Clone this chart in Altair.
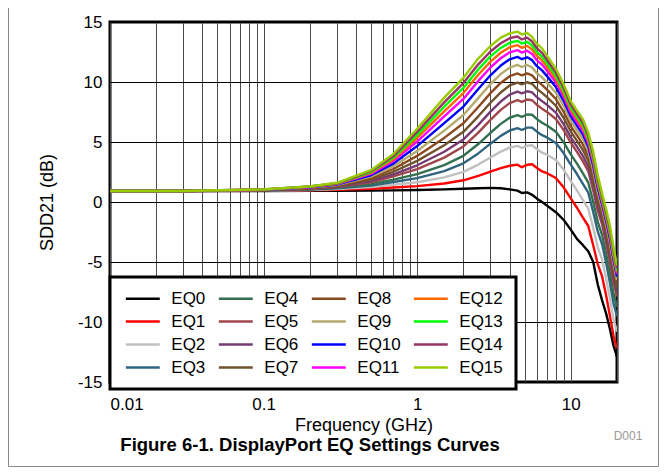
import altair as alt
import pandas as pd

FREQ = [0.01, 0.03, 0.1, 0.2, 0.3, 0.5, 0.7, 1, 1.5, 2, 2.5, 3, 3.5, 4, 4.5, 4.8, 5.2, 5.6,
        6, 6.5, 7, 8, 9, 10, 11, 12, 13, 14, 15, 16, 17, 18, 19, 20]

EQ0 = [0.92, 0.92, 0.92, 0.93, 0.93, 0.95, 0.97, 1.0, 1.05, 1.1, 1.15, 1.18, 1.15, 1.05, 0.95, 0.75, 0.8, 0.6,
       0.3, 0.0, -0.3, -0.85, -1.5, -2.3, -3.1, -3.6, -4.1, -5.0, -6.9, -8.2, -9.3, -10.6, -12.0, -12.9]
EQ1 = [0.92, 0.92, 0.93, 0.97, 1.01, 1.10, 1.21, 1.32, 1.54, 1.81, 2.17, 2.53, 2.82, 3.02, 3.11, 2.9, 3.1, 3.15,
       2.85, 2.55, 2.4, 2.0, 1.2, 0.3, -0.5, -1.3, -2.0, -3.6, -5.2, -6.2, -7.8, -9.5, -11.2, -12.2]
EQ2 = [0.92, 0.92, 0.94, 1.0, 1.08, 1.24, 1.44, 1.65, 2.05, 2.51, 3.12, 3.71, 4.20, 4.53, 4.68, 4.50, 4.70, 4.73,
       4.42, 4.11, 3.94, 3.50, 2.68, 1.75, 0.95, 0.16, -0.56, -2.16, -3.78, -4.81, -6.39, -8.08, -9.78, -10.81]
EQ3 = [0.92, 0.92, 0.95, 1.03, 1.14, 1.37, 1.67, 1.99, 2.58, 3.22, 4.05, 4.86, 5.51, 5.96, 6.15, 6.0, 6.2, 6.2,
       5.88, 5.57, 5.38, 4.91, 4.06, 3.11, 2.31, 1.52, 0.78, -0.83, -2.47, -3.52, -5.09, -6.76, -8.47, -9.52]
EQ4 = [0.92, 0.92, 0.96, 1.06, 1.19, 1.49, 1.87, 2.32, 3.07, 3.85, 4.83, 5.77, 6.51, 7.02, 7.24, 7.10, 7.29, 7.27,
       6.92, 6.61, 6.38, 5.85, 4.96, 3.97, 3.17, 2.39, 1.62, 0.02, -1.66, -2.75, -4.29, -5.94, -7.66, -8.75]
EQ5 = [0.92, 0.92, 0.97, 1.09, 1.25, 1.64, 2.13, 2.74, 3.70, 4.63, 5.78, 6.84, 7.68, 8.24, 8.49, 8.35, 8.54, 8.48,
       8.11, 7.78, 7.51, 6.92, 5.99, 4.95, 4.15, 3.38, 2.57, 0.97, -0.74, -1.87, -3.39, -5.01, -6.74, -7.87]
EQ6 = [0.92, 0.92, 0.98, 1.12, 1.29, 1.74, 2.31, 3.06, 4.19, 5.21, 6.43, 7.53, 8.37, 8.95, 9.19, 9.05, 9.23, 9.14,
       8.75, 8.41, 8.10, 7.45, 6.47, 5.39, 4.59, 3.82, 2.98, 1.38, -0.36, -1.54, -3.04, -4.63, -6.36, -7.54]
EQ7 = [0.92, 0.92, 0.99, 1.14, 1.33, 1.86, 2.52, 3.43, 4.73, 5.85, 7.14, 8.27, 9.13, 9.71, 9.95, 9.80, 9.98, 9.85,
       9.44, 9.09, 8.74, 8.02, 7.0, 5.87, 5.07, 4.32, 3.44, 1.84, 0.06, -1.17, -2.63, -4.20, -5.94, -7.17]
EQ8 = [0.92, 0.92, 1.0, 1.17, 1.37, 1.98, 2.75, 3.84, 5.34, 6.56, 7.92, 9.07, 9.92, 10.48, 10.71, 10.55, 10.72, 10.55,
       10.12, 9.76, 9.36, 8.58, 7.50, 6.33, 5.53, 4.78, 3.86, 2.26, 0.44, -0.83, -2.27, -3.80, -5.56, -6.83]
EQ9 = [0.92, 0.92, 1.01, 1.2, 1.41, 2.11, 2.97, 4.25, 5.95, 7.25, 8.67, 9.82, 10.66, 11.20, 11.42, 11.25, 11.42, 11.21,
       10.75, 10.39, 9.95, 9.10, 7.98, 6.76, 5.96, 5.23, 4.27, 2.67, 0.81, -0.51, -1.91, -3.42, -5.19, -6.51]
EQ10 = [0.92, 0.92, 1.02, 1.23, 1.45, 2.23, 3.20, 4.66, 6.57, 7.95, 9.42, 10.56, 11.37, 11.89, 12.09, 11.90, 12.06, 11.82,
        11.34, 10.97, 10.49, 9.58, 8.41, 7.15, 6.35, 5.62, 4.63, 3.03, 1.14, -0.23, -1.61, -3.09, -4.86, -6.23]
EQ11 = [0.92, 0.92, 1.03, 1.25, 1.49, 2.34, 3.41, 5.04, 7.13, 8.59, 10.09, 11.21, 11.98, 12.47, 12.66, 12.45, 12.61, 12.34,
        11.83, 11.45, 10.94, 9.97, 8.77, 7.46, 6.66, 5.94, 4.92, 3.32, 1.39, -0.01, -1.37, -2.83, -4.61, -6.01]
EQ12 = [0.92, 0.92, 1.03, 1.27, 1.51, 2.42, 3.56, 5.34, 7.56, 9.08, 10.60, 11.70, 12.44, 12.90, 13.07, 12.85, 13.01, 12.71,
        12.19, 11.80, 11.26, 10.25, 9.02, 7.68, 6.88, 6.17, 5.12, 3.52, 1.57, 0.14, -1.20, -2.64, -4.43, -5.86]
EQ13 = [0.92, 0.92, 1.04, 1.29, 1.54, 2.50, 3.70, 5.60, 7.94, 9.51, 11.05, 12.13, 12.84, 13.27, 13.43, 13.20, 13.35, 13.04,
        12.51, 12.11, 11.55, 10.51, 9.25, 7.89, 7.09, 6.38, 5.31, 3.71, 1.74, 0.28, -1.04, -2.47, -4.26, -5.72]
EQ14 = [0.92, 0.92, 1.05, 1.30, 1.56, 2.57, 3.83, 5.84, 8.30, 9.91, 11.47, 12.54, 13.23, 13.65, 13.79, 13.55, 13.70, 13.37,
        12.83, 12.43, 11.85, 10.78, 9.50, 8.12, 7.32, 6.61, 5.53, 3.93, 1.95, 0.47, -0.85, -2.26, -4.05, -5.53]
EQ15 = [0.92, 0.92, 1.05, 1.3, 1.6, 2.65, 4.0, 6.1, 8.7, 10.35, 11.95, 13.0, 13.7, 14.05, 14.2, 13.95, 14.1, 13.75,
        13.2, 12.8, 12.2, 11.1, 9.8, 8.4, 7.6, 6.9, 5.8, 4.2, 2.2, 0.7, -0.6, -2.0, -3.8, -5.3]

SERIES = ["EQ0", "EQ1", "EQ2", "EQ3", "EQ4", "EQ5", "EQ6", "EQ7",
          "EQ8", "EQ9", "EQ10", "EQ11", "EQ12", "EQ13", "EQ14", "EQ15"]
VALUES = [EQ0, EQ1, EQ2, EQ3, EQ4, EQ5, EQ6, EQ7, EQ8, EQ9, EQ10, EQ11, EQ12, EQ13, EQ14, EQ15]
COLORS = ["#000000", "#FF0000", "#C0C0C0", "#31657F", "#33704F", "#A0464B", "#773B73", "#70522C",
          "#8B4A1E", "#B4AA6E", "#0000FF", "#FF00FF", "#FF6600", "#00FF00", "#993366", "#99CC00"]
WIDTHS = [2.4, 2.4, 2.6, 2.4, 2.4, 2.4, 2.4, 2.4, 2.4, 2.4, 2.6, 2.8, 3.0, 3.0, 3.2, 4.0]

XTICKS = [0.01, 0.02, 0.03, 0.04, 0.05, 0.06, 0.07, 0.08, 0.09,
          0.1, 0.2, 0.3, 0.4, 0.5, 0.6, 0.7, 0.8, 0.9,
          1, 2, 3, 4, 5, 6, 7, 8, 9, 10, 20]

rows = []
for name, vals in zip(SERIES, VALUES):
    for f, v in zip(FREQ, vals):
        rows.append({"f": f, "v": v, "EQ": name})
df = pd.DataFrame(rows)

FONT = "Liberation Sans"

lines = alt.Chart(df).mark_line(strokeJoin="round", strokeCap="butt", clip=True).encode(
    x=alt.X("f:Q", scale=alt.Scale(type="log", domain=[0.01, 20], nice=False),
            axis=alt.Axis(values=XTICKS, format="~g", grid=True, ticks=False, domain=False,
                          labelExpr="(datum.value == 0.01 || datum.value == 0.1 || datum.value == 1 || datum.value == 10) ? datum.label : ''",
                          labelOverlap=False, labelPadding=14, labelFontSize=17, labelColor="black",
                          gridColor="#4a4a4a", gridWidth=1,
                          title="Frequency (GHz)", titleFontSize=18, titleFontWeight="normal",
                          titleX=253.5, titleY=43, titleBaseline="middle")),
    y=alt.Y("v:Q", scale=alt.Scale(domain=[-15, 15], nice=False, zero=False),
            axis=alt.Axis(values=[-15, -10, -5, 0, 5, 10, 15], grid=True, ticks=False, domain=False,
                          labelExpr="'' + datum.value",
                          labelPadding=8, labelFontSize=17, labelColor="black",
                          gridColor="black", gridWidth=1,
                          title="SDD21 (dB)", titleFontSize=18, titleFontWeight="normal",
                          titleX=-63, titleY=180, titleBaseline="middle", titleAngle=-90)),
    color=alt.Color("EQ:N", scale=alt.Scale(domain=SERIES, range=COLORS),
                    legend=alt.Legend(orient="none", legendX=0, legendY=255, columns=4, title=None,
                                      symbolType="M-3,0H3", symbolSize=128, symbolStrokeWidth=2.6,
                                      symbolOffset=11.3,
                                      labelFontSize=17, labelOffset=20, columnPadding=8, rowPadding=5,
                                      padding=13, fillColor="white", strokeColor="black")),
    strokeWidth=alt.StrokeWidth("EQ:N", scale=alt.Scale(domain=SERIES, range=WIDTHS), legend=None),
    order=alt.Order("f:Q"),
)

fig_title = alt.Chart().mark_text(text="Figure 6-1. DisplayPort EQ Settings Curves", fontSize=18.5,
                                  fontWeight="bold", font=FONT, color="black", baseline="middle").encode(
    x=alt.value(200), y=alt.value(423))
code = alt.Chart().mark_text(text="D001", fontSize=12, font=FONT, color="#999999", baseline="middle").encode(
    x=alt.value(518), y=alt.value(414))
frame = alt.Chart().mark_rect(fillOpacity=0, stroke="#888888", strokeWidth=1).encode(
    x=alt.value(-101.5), x2=alt.value(548.5), y=alt.value(-30), y2=alt.value(444.5))

chart = alt.layer(lines, frame, fig_title, code).properties(
    width=507, height=360,
    padding={"left": 102, "top": 14, "right": 42, "bottom": 85},
    autosize=alt.AutoSizeParams(type="none"),
).configure(font=FONT).configure_view(
    stroke="black", strokeWidth=3
).configure_legend(strokeWidth=3)

chart.save("out.html", embed_options={"renderer": "svg", "actions": False})
